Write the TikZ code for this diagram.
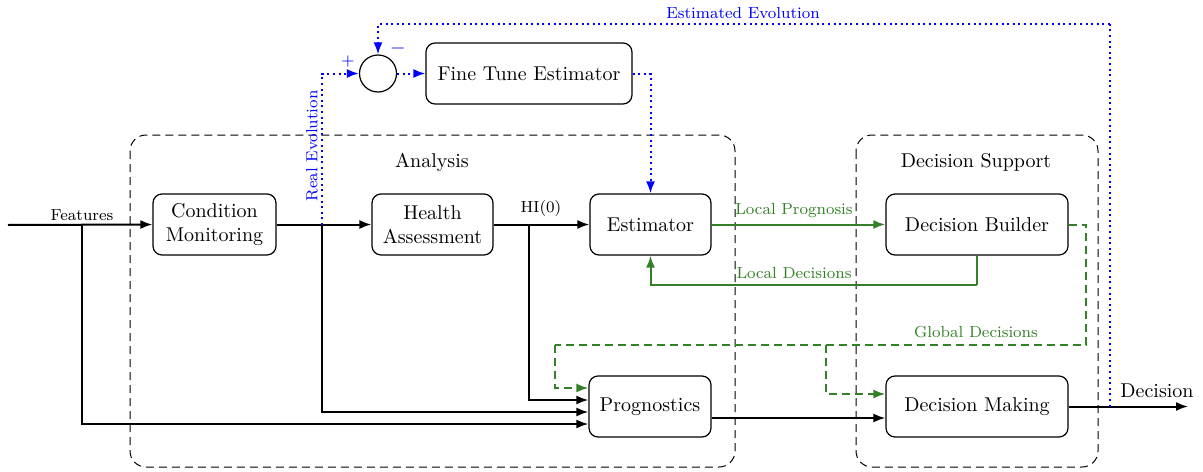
\documentclass[tikz,border=0pt]{standalone}
\usetikzlibrary{arrows.meta,calc}
\definecolor{gr}{RGB}{52,128,40}
\begin{document}
\begin{tikzpicture}[x=0.5pt,y=-0.5pt,
  blk/.style={draw,rounded corners=4.5pt,line width=0.6pt,align=center,inner sep=1pt,minimum height=30.5pt},
  grp/.style={draw,dash pattern=on 4pt off 2.5pt,rounded corners=8pt,line width=0.5pt,black},
  tip/.style={-{Latex[length=6pt,width=4.5pt]}},
  arr/.style={line width=1pt,tip},
  bdot/.style={blue,line width=1pt,dash pattern=on 1pt off 1.8pt},
  bdarr/.style={bdot,tip},
  gline/.style={gr,line width=1pt},
  gdash/.style={gr,line width=1pt,dash pattern=on 4pt off 2.5pt},
  lab/.style={font=\footnotesize,inner sep=1pt}]
\useasboundingbox (0,0) rectangle (1203,471);
% groups
\draw[grp] (130,135) rectangle (735,467);
\draw[grp] (856,135) rectangle (1098,467);
\node (an) at (432,162) {Analysis};
\node (ds) at (976,162) {Decision Support};
% blocks
\node[blk,minimum width=61.5pt] (cm) at (214.5,224.5) {Condition\\Monitoring};
\node[blk,minimum width=60.5pt] (ha) at (432.5,224.5) {Health\\Assessment};
\node[blk,minimum width=60.5pt] (est) at (650.5,224.5) {Estimator};
\node[blk,minimum width=61pt] (prog) at (650,406.5) {Prognostics};
\node[blk,minimum width=91pt] (db) at (977,224.5) {Decision Builder};
\node[blk,minimum width=91pt] (dm) at (977,406.5) {Decision Making};
\node[blk,minimum width=103pt] (ft) at (529,73.5) {Fine Tune Estimator};
\node[draw,circle,line width=0.6pt,minimum size=18.5pt,inner sep=0pt] (sum) at (378,73.5) {};
% coordinates
\coordinate (in) at (8,225);
\coordinate (f) at (82,225);
\coordinate (re) at (322,225);
\coordinate (hi) at (529,225);
\coordinate (out) at (1188,406.5);
\coordinate (dd) at (1110,406.5);
\coordinate (ee) at (1110,24);
\coordinate (ld) at (977,285);
\coordinate (g1) at (1086,345);
\coordinate (g2) at (555,345);
\coordinate (g3) at (826,345);
% black flow
\draw[arr] (in) -- (cm.west);
\node[lab,anchor=south] at (f) [yshift=1pt] {Features};
\draw[arr] (f) |- ($(prog.west)+(0,17.5)$);
\draw[arr] (cm.east) -- (ha.west);
\draw[arr] (re) |- ($(prog.west)+(0,5.5)$);
\draw[arr] (ha.east) -- (est.west);
\node[lab] at (541,208) {HI(0)};
\draw[arr] (hi) |- ($(prog.west)+(0,-6.5)$);
\draw[arr] ($(prog.east)+(0,11.5)$) -- ($(dm.west)+(0,11.5)$);
\draw[arr] (dm.east) -- (out);
\node[anchor=south,inner sep=1pt] at (1157,400) {Decision};
% blue
\draw[bdarr] (re) |- (sum.west);
\node[blue,lab,rotate=90] at (312,146) {Real Evolution};
\draw[bdarr] (sum.east) -- (ft.west);
\draw[bdarr] (ft.east) -| (est.north);
\draw[bdot] (dd) -- (ee);
\draw[bdarr] (ee) -| (sum.north);
\node[blue,lab] at (743,13) {Estimated Evolution};
\node[blue,inner sep=0pt] at (348,61) {\footnotesize $+$};
\node[blue,inner sep=0pt] at (398,48) {$-$};
% green
\draw[gline,tip] (est.east) -- (db.west);
\node[gr,lab] at (794,211) {Local Prognosis};
\draw[gline] (db.south) -- (ld);
\draw[gline,tip] (ld) -| (est.south);
\node[gr,lab] at (794,273) {Local Decisions};
\draw[gdash] (db.east) -| (g1) -- (g2);
\draw[gdash,tip] (g2) |- ($(prog.west)+(0,-18.5)$);
\draw[gdash,tip] (g3) |- ($(dm.west)+(0,-12.5)$);
\node[gr,lab] at (976,332) {Global Decisions};
\end{tikzpicture}
\end{document}
